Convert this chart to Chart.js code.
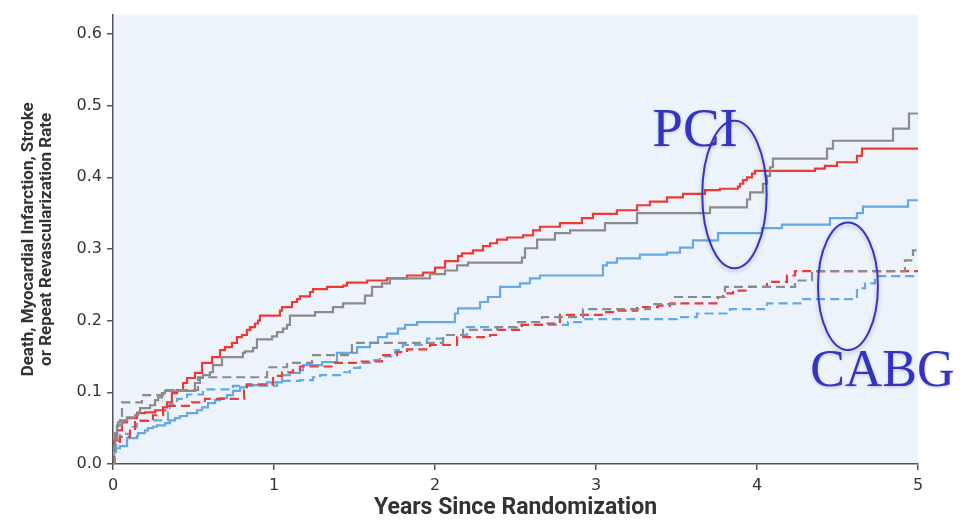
<!DOCTYPE html>
<html>
<head>
<meta charset="utf-8">
<script src="https://cdn.jsdelivr.net/npm/chart.js@4/dist/chart.umd.min.js"></script>
<style>
  html, body { margin: 0; padding: 0; background: #ffffff; }
  #wrap { width: 960px; height: 526px; position: relative; }
</style>
</head>
<body>
<div id="wrap"><canvas id="c" width="960" height="526"></canvas></div>
<script>
// ---- Data (years since randomization, cumulative event rate) ----
const xTicks = [0, 1, 2, 3, 4, 5];
const yTicks = [0.0, 0.1, 0.2, 0.3, 0.4, 0.5, 0.6];

// PCI – red solid
const pciRedT = [0,0.006,0.025,0.056,0.087,0.149,0.199,0.261,0.311,0.335,0.366,0.398,0.435,0.46,0.509,0.553,0.615,0.665,0.696,0.739,0.77,0.801,0.832,0.851,0.882,0.901,0.913,1.037,1.05,1.112,1.143,1.161,1.224,1.242,1.329,1.429,1.453,1.578,1.702,1.826,1.925,2.0,2.062,2.143,2.168,2.236,2.298,2.342,2.385,2.447,2.547,2.609,2.652,2.776,2.913,2.981,3.13,3.255,3.335,3.441,3.54,3.677,3.77,3.882,3.894,3.913,3.938,3.969,3.988,4.36,4.422,4.497,4.621,4.652,5.0];
const pciRedV = [0,0.033,0.047,0.058,0.064,0.071,0.072,0.075,0.079,0.086,0.099,0.103,0.113,0.12,0.127,0.141,0.149,0.159,0.163,0.169,0.177,0.18,0.187,0.191,0.196,0.2,0.207,0.214,0.219,0.226,0.23,0.234,0.24,0.244,0.247,0.249,0.253,0.256,0.259,0.263,0.267,0.274,0.283,0.29,0.294,0.298,0.304,0.308,0.313,0.316,0.319,0.326,0.331,0.336,0.343,0.349,0.354,0.361,0.366,0.372,0.377,0.382,0.384,0.387,0.391,0.396,0.4,0.405,0.409,0.412,0.416,0.421,0.43,0.44,0.44];

// PCI – gray solid
const pciGrayT = [0,0.006,0.012,0.025,0.031,0.043,0.087,0.137,0.155,0.168,0.23,0.261,0.28,0.304,0.323,0.509,0.54,0.559,0.602,0.621,0.677,0.807,0.82,0.87,0.894,0.988,1.019,1.056,1.081,1.099,1.255,1.366,1.429,1.565,1.609,1.671,1.72,1.969,2.062,2.137,2.205,2.54,2.559,2.634,2.745,2.839,3.056,3.255,3.708,3.938,3.957,4.037,4.062,4.081,4.099,4.435,4.472,4.845,4.944,5.0];
const pciGrayV = [0,0.026,0.043,0.052,0.058,0.061,0.065,0.068,0.072,0.078,0.082,0.089,0.093,0.099,0.102,0.113,0.12,0.124,0.128,0.138,0.149,0.155,0.157,0.162,0.174,0.178,0.184,0.189,0.194,0.207,0.212,0.219,0.224,0.235,0.247,0.252,0.259,0.265,0.27,0.277,0.281,0.288,0.301,0.313,0.322,0.326,0.336,0.35,0.358,0.369,0.379,0.391,0.402,0.414,0.426,0.44,0.451,0.468,0.489,0.489];

// PCI – blue solid
const pciBlueT = [0,0.006,0.019,0.043,0.087,0.149,0.155,0.199,0.217,0.248,0.273,0.323,0.354,0.385,0.416,0.46,0.522,0.553,0.59,0.634,0.665,0.708,0.745,0.789,0.832,0.957,1.05,1.099,1.161,1.18,1.298,1.391,1.516,1.596,1.646,1.702,1.77,1.814,1.888,2.124,2.143,2.28,2.329,2.404,2.528,2.59,2.652,3.043,3.068,3.13,3.273,3.441,3.522,3.602,3.758,4.031,4.155,4.453,4.621,4.658,4.938,5.0];
const pciBlueV = [0,0.017,0.022,0.025,0.036,0.039,0.043,0.047,0.05,0.052,0.054,0.057,0.061,0.064,0.067,0.071,0.075,0.079,0.085,0.089,0.092,0.096,0.102,0.107,0.11,0.114,0.124,0.127,0.131,0.138,0.142,0.155,0.163,0.169,0.177,0.182,0.189,0.194,0.198,0.21,0.217,0.226,0.233,0.247,0.252,0.259,0.263,0.277,0.281,0.287,0.292,0.295,0.302,0.312,0.322,0.329,0.334,0.343,0.35,0.359,0.368,0.368];

// CABG – gray dashed
const cabgGrayT = [0,0.012,0.025,0.056,0.18,0.311,0.528,0.957,1.081,1.236,1.484,2.05,2.174,2.385,2.509,2.665,2.919,3.335,3.491,3.801,4.236,4.342,4.919,4.969,5.0];
const cabgGrayV = [0,0.033,0.054,0.086,0.096,0.103,0.121,0.135,0.141,0.152,0.169,0.18,0.187,0.191,0.198,0.205,0.216,0.223,0.233,0.247,0.256,0.269,0.284,0.298,0.298];

// CABG – red dashed
const cabgRedT = [0,0.006,0.012,0.043,0.106,0.137,0.248,0.311,0.342,0.491,0.571,0.814,0.832,0.994,1.05,1.118,1.161,1.366,1.534,1.671,1.764,1.826,1.969,2.137,2.342,2.391,2.54,2.671,2.776,3.056,3.13,3.255,3.385,3.46,3.758,3.789,3.851,3.938,4.062,4.186,4.236,5.0];
const cabgRedV = [0,0.019,0.029,0.038,0.047,0.06,0.068,0.075,0.081,0.086,0.091,0.103,0.111,0.123,0.128,0.131,0.136,0.141,0.143,0.152,0.156,0.16,0.166,0.177,0.18,0.187,0.194,0.196,0.208,0.212,0.214,0.219,0.221,0.224,0.233,0.238,0.242,0.247,0.254,0.263,0.269,0.269];

// CABG – blue dashed
const cabgBlueT = [0,0.006,0.019,0.043,0.106,0.149,0.342,0.354,0.398,0.46,0.559,0.745,1.019,1.161,1.242,1.286,1.429,1.472,1.534,1.615,1.658,1.752,1.801,1.95,2.05,2.199,2.509,2.826,2.919,3.503,3.627,3.832,4.062,4.286,4.621,4.671,4.733,5.0];
const cabgBlueV = [0,0.022,0.033,0.042,0.052,0.061,0.072,0.084,0.091,0.097,0.104,0.109,0.116,0.117,0.121,0.124,0.128,0.134,0.141,0.145,0.15,0.159,0.166,0.175,0.18,0.191,0.194,0.198,0.202,0.205,0.21,0.216,0.224,0.23,0.245,0.252,0.262,0.262];

// Annotation labels
const annoLabels = ['PCI', 'CABG'];

function pts(t, v) { return t.map((x, i) => ({ x: x, y: v[i] })); }

const RED = '#ec3a34', GRAY = '#8b8b8b', BLUE = '#66a8e2';
function ds(label, t, v, color, dashed) {
  return {
    label: label,
    data: pts(t, v),
    borderColor: color,
    borderWidth: 2.2,
    borderDash: dashed ? [9, 5] : [],
    pointRadius: 0,
    stepped: true,
    fill: false,
    tension: 0
  };
}

const bgPlugin = {
  id: 'plotBg',
  beforeDraw(chart) {
    const { ctx, chartArea: a } = chart;
    ctx.save();
    ctx.fillStyle = '#edf3fb';
    ctx.fillRect(a.left, a.top, a.right - a.left, a.bottom - a.top);
    ctx.restore();
  }
};

const annoPlugin = {
  id: 'anno',
  afterDatasetsDraw(chart) {
    const { ctx, scales: { x, y } } = chart;
    ctx.save();
    ctx.strokeStyle = '#3434c4';
    ctx.lineWidth = 2;
    ctx.shadowColor = 'rgba(0,0,0,0.25)';
    ctx.shadowBlur = 4;
    ctx.shadowOffsetY = 2;
    let cx = x.getPixelForValue(3.86), cy = y.getPixelForValue(0.376);
    let rx = x.getPixelForValue(3.86 + 0.2) - cx, ry = cy - y.getPixelForValue(0.376 + 0.103);
    ctx.beginPath(); ctx.ellipse(cx, cy, rx, ry, 0, 0, Math.PI * 2); ctx.stroke();
    cx = x.getPixelForValue(4.565); cy = y.getPixelForValue(0.248);
    rx = x.getPixelForValue(4.565 + 0.186) - cx; ry = cy - y.getPixelForValue(0.248 + 0.089);
    ctx.beginPath(); ctx.ellipse(cx, cy, rx, ry, 0, 0, Math.PI * 2); ctx.stroke();
    ctx.shadowBlur = 3; ctx.shadowOffsetY = 1; ctx.shadowColor = 'rgba(0,0,0,0.2)';
    ctx.fillStyle = '#3434c4';
    ctx.textBaseline = 'alphabetic';
    ctx.textAlign = 'left';
    ctx.font = '55px "Liberation Serif", "DejaVu Serif", serif';
    ctx.fillText(annoLabels[0], x.getPixelForValue(3.35), y.getPixelForValue(0.444));
    ctx.font = '52px "Liberation Serif", "DejaVu Serif", serif';
    ctx.fillText(annoLabels[1], x.getPixelForValue(4.33), y.getPixelForValue(0.109));
    ctx.restore();
  }
};

new Chart(document.getElementById('c'), {
  type: 'line',
  data: {
    datasets: [
      ds('CABG gray', cabgGrayT, cabgGrayV, GRAY, true),
      ds('CABG red', cabgRedT, cabgRedV, RED, true),
      ds('CABG blue', cabgBlueT, cabgBlueV, BLUE, true),
      ds('PCI blue', pciBlueT, pciBlueV, BLUE, false),
      ds('PCI gray', pciGrayT, pciGrayV, GRAY, false),
      ds('PCI red', pciRedT, pciRedV, RED, false)
    ]
  },
  options: {
    responsive: false,
    animation: false,
    layout: { padding: { left: 0, right: 42, top: 14, bottom: 0 } },
    plugins: { legend: { display: false }, tooltip: { enabled: false } },
    scales: {
      x: {
        type: 'linear',
        min: 0, max: 5,
        afterBuildTicks(s) { s.ticks = xTicks.map(v => ({ value: v })); },
        afterFit(s) { s.height = 62; },
        grid: { drawOnChartArea: false, drawTicks: true, tickLength: 6, color: '#555', lineWidth: 1.5 },
        border: { display: true, color: '#555', width: 1.5 },
        ticks: { color: '#333', padding: 6, font: { family: '"DejaVu Sans", sans-serif', size: 16 }, maxRotation: 0 },
        title: { display: true, text: 'Years Since Randomization', color: '#333', padding: { top: 2 },
                 font: { family: 'Roboto, sans-serif', size: 23, weight: 'bold' } }
      },
      y: {
        type: 'linear',
        min: 0, max: 0.627,
        afterBuildTicks(s) { s.ticks = yTicks.map(v => ({ value: v })); },
        afterFit(s) { s.width = 113; },
        grid: { drawOnChartArea: false, drawTicks: true, tickLength: 6, color: '#555', lineWidth: 1.5 },
        border: { display: true, color: '#555', width: 1.5 },
        ticks: { color: '#333', padding: 5, font: { family: '"DejaVu Sans", sans-serif', size: 16 },
                 callback: v => v.toFixed(1) },
        title: { display: true, text: ['Death, Myocardial Infarction, Stroke', 'or Repeat Revascularization Rate'],
                 color: '#333', padding: { top: 19, bottom: 0 },
                 font: { family: 'Roboto, sans-serif', size: 17, weight: 'bold', lineHeight: 1.1 } }
      }
    }
  },
  plugins: [bgPlugin, annoPlugin]
});
</script>
</body>
</html>
